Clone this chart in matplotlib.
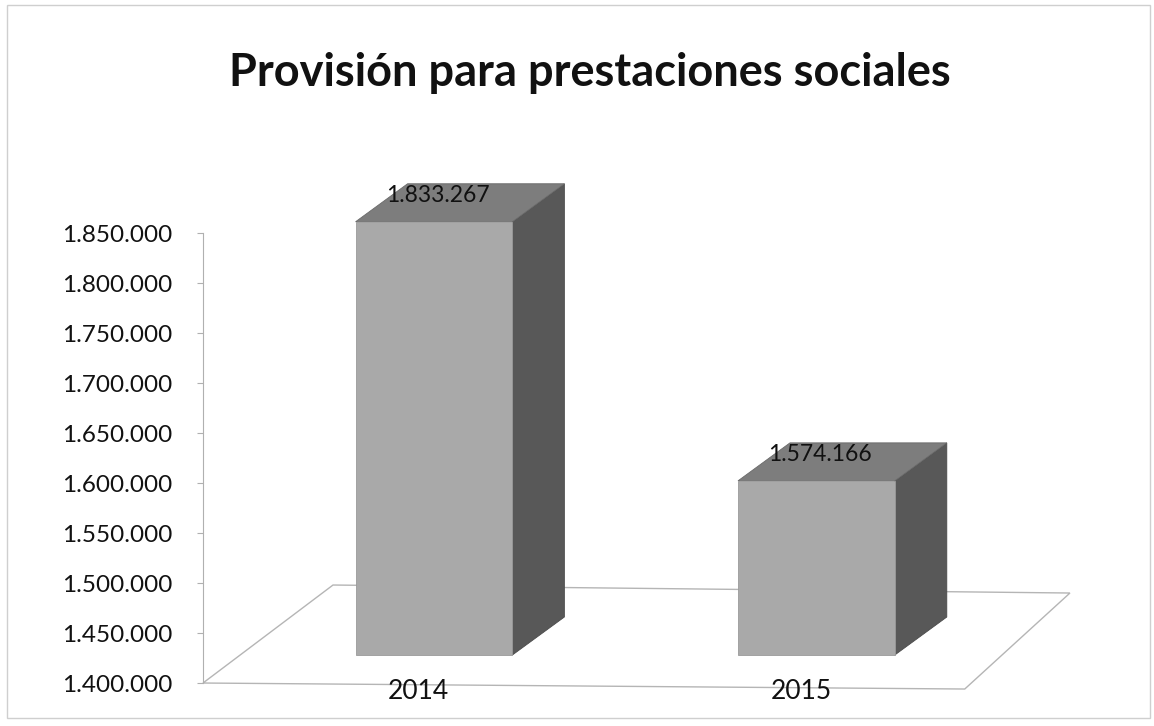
import matplotlib.pyplot as plt
from matplotlib.patches import Polygon, Rectangle
import numpy as np

# data
years = ["2014", "2015"]
values = [1833267, 1574166]
value_labels = ["1.833.267", "1.574.166"]
yticks = [1400000, 1450000, 1500000, 1550000, 1600000, 1650000,
          1700000, 1750000, 1800000, 1850000]
ytick_labels = ["1.400.000", "1.450.000", "1.500.000", "1.550.000", "1.600.000",
                "1.650.000", "1.700.000", "1.750.000", "1.800.000", "1.850.000"]
title = "Provisión para prestaciones sociales"

# 3d look (in data units)
base = 1400000
bar_w = 0.41
lift = 28000          # bars sit a bit behind the front edge of the floor
depth_dx, depth_dy = 0.136, 38000
front_col, top_col, side_col = "#a9a9a9", "#7d7d7d", "#585858"

fig = plt.figure(figsize=(11.54, 7.26), dpi=100)
ax = fig.add_axes([0.1759, 0.0592, 0.7539, 0.6887])
ax.set_xlim(-0.604, 1.671)
ax.set_ylim(1400000, 1900000)

# floor
floor = Polygon([(-0.604, base), (1.388, base - 6000), (1.663, base + 90000), (-0.264, base + 98000)],
                closed=True, facecolor="none", edgecolor="#b5b5b5", lw=1.0, clip_on=False)
ax.add_patch(floor)

for i, v in enumerate(values):
    x0, x1 = i - bar_w / 2, i + bar_w / 2
    y0, y1 = base + lift, v + lift
    side = Polygon([(x1, y0), (x1 + depth_dx, y0 + depth_dy), (x1 + depth_dx, y1 + depth_dy), (x1, y1)],
                   facecolor=side_col, edgecolor="#4a4a4a", lw=0.6, clip_on=False)
    top = Polygon([(x0, y1), (x1, y1), (x1 + depth_dx, y1 + depth_dy), (x0 + depth_dx, y1 + depth_dy)],
                  facecolor=top_col, edgecolor="#6a6a6a", lw=0.6, clip_on=False)
    front = Rectangle((x0, y0), bar_w, y1 - y0, facecolor=front_col,
                      edgecolor="#9a9a9a", lw=0.6, clip_on=False)
    ax.add_patch(side)
    ax.add_patch(top)
    ax.add_patch(front)
    ax.text(i + 0.01, y1 + depth_dy * 0.7, value_labels[i], ha="center", va="center",
            fontsize=16.5, family="Lato", color="#111111")

ax.set_yticks(yticks)
ax.set_yticklabels(ytick_labels, fontsize=17.5, family="Lato", color="#111111")
ax.set_xticks([i - 0.04 for i in range(len(years))])
ax.set_xticklabels(years, fontsize=19, family="Lato", color="#111111")
ax.tick_params(axis="x", length=0, pad=-3)
ax.tick_params(axis="y", length=4, color="#b0b0b0", pad=18)

for s in ["top", "right", "bottom"]:
    ax.spines[s].set_visible(False)
ax.spines["left"].set_bounds(1400000, 1850000)
ax.spines["left"].set_color("#b0b0b0")
ax.patch.set_alpha(0)

fig.text(0.511, 0.90, title, ha="center", va="center", fontsize=32.5,
         fontweight="bold", family="Lato", color="#111111")

fig.patches.append(Rectangle((7 / 1154, 8 / 726), 1143 / 1154, 713 / 726, transform=fig.transFigure,
                             facecolor="none", edgecolor="#cfcfcf", lw=1.0))

fig.savefig("out.png", dpi=100)
